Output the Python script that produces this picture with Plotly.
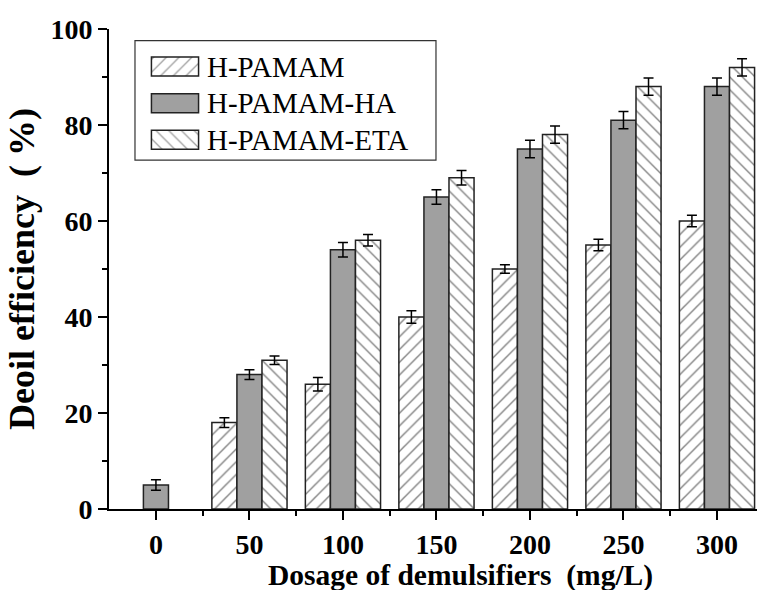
import plotly.graph_objects as go

# Demulsifier dosage (mg/L) and deoiling efficiency (%) for each polymer
dosage = [0, 50, 100, 150, 200, 250, 300]

h_pamam = [None, 18, 26, 40, 50, 55, 60]
h_pamam_err = [None, 1.0, 1.4, 1.3, 0.9, 1.2, 1.2]

h_pamam_ha = [5, 28, 54, 65, 75, 81, 88]
h_pamam_ha_err = [1.1, 1.0, 1.5, 1.5, 1.8, 1.8, 1.8]

h_pamam_eta = [None, 31, 56, 69, 78, 88, 92]
h_pamam_eta_err = [None, 0.9, 1.2, 1.5, 1.8, 1.8, 1.8]

series_names = ["H-PAMAM", "H-PAMAM-HA", "H-PAMAM-ETA"]
tick_vals = [0, 50, 100, 150, 200, 250, 300]
x_title = "Dosage of demulsifiers  (mg/L)"
y_title = "Deoil efficiency  ( %)"

FONT = "Liberation Serif"
EDGE = "#222222"
GRAY = "#a0a0a0"

fills = ["white", GRAY, "white"]
hatches = ["/", "", "\\"]


def err(vals):
    return dict(type="data", array=vals, visible=True, color="black",
                thickness=1.5, width=5)


def marker(i):
    m = dict(color=fills[i], line=dict(color=EDGE, width=1.5))
    if hatches[i]:
        m["pattern"] = dict(shape=hatches[i], fgcolor="black", bgcolor="white",
                            size=9, solidity=0.15)
    return m


fig = go.Figure()
for i, (vals, errs) in enumerate([(h_pamam, h_pamam_err),
                                  (h_pamam_ha, h_pamam_ha_err),
                                  (h_pamam_eta, h_pamam_eta_err)]):
    fig.add_trace(go.Bar(x=dosage, y=vals, name=series_names[i],
                         error_y=err(errs), marker=marker(i), showlegend=False))

# Legend keys: wide hatched swatches drawn as horizontal bars on an inset axis
fig.add_trace(go.Bar(
    y=series_names, x=[1, 1, 1], orientation="h", width=0.52,
    xaxis="x2", yaxis="y2", showlegend=False, hoverinfo="skip",
    marker=dict(color=fills, line=dict(color=EDGE, width=1.5),
                pattern=dict(shape=hatches, fgcolor="black", bgcolor="white",
                             size=9, solidity=0.15)),
))
for name in series_names:
    fig.add_annotation(x=1, y=name, xref="x2", yref="y2", text=name,
                       showarrow=False, xanchor="left", xshift=6,
                       font=dict(family=FONT, size=29, color="black"))

fig.add_shape(type="rect", xref="paper", yref="paper",
              x0=0.0401, x1=0.5046, y0=0.727, y1=0.9756,
              line=dict(color="#333333", width=1.2), fillcolor="rgba(0,0,0,0)",
              layer="below")

# x-axis title, set slightly right of the axis centre
fig.add_annotation(text=f"<b>{x_title}</b>", xref="paper", yref="paper",
                   x=0.5417, y=-0.1375, xanchor="center", yanchor="middle",
                   showarrow=False, font=dict(family=FONT, size=29.5, color="black"))

fig.update_layout(
    width=757, height=590,
    margin=dict(l=109, r=0, t=29, b=81),
    paper_bgcolor="white", plot_bgcolor="white",
    barmode="group", bargap=0.196, bargroupgap=0,
    font=dict(family=FONT, color="black"),
    showlegend=False,
    xaxis=dict(
        range=[-25.1, 321.4], tickmode="array", tickvals=tick_vals,
        ticktext=[str(v) for v in tick_vals],
        showline=True, linecolor="black", linewidth=2,
        ticks="outside", ticklen=9, tickwidth=2, tickcolor="black",
        minor=dict(tickvals=[25, 75, 125, 175, 225, 275], ticks="outside",
                   ticklen=5, tickwidth=2, tickcolor="black"),
        showgrid=False, zeroline=False,
        tickfont=dict(family=FONT, size=28, color="black", weight="bold"),
    ),
    yaxis=dict(
        range=[0, 100], tickmode="array", tickvals=[0, 20, 40, 60, 80, 100],
        showline=True, linecolor="black", linewidth=2,
        ticks="outside", ticklen=9, tickwidth=2, tickcolor="black",
        minor=dict(tickvals=[10, 30, 50, 70, 90], ticks="outside",
                   ticklen=5, tickwidth=2, tickcolor="black"),
        showgrid=False, zeroline=False,
        tickfont=dict(family=FONT, size=28, color="black", weight="bold"),
        title=dict(text=f"<b>{y_title}</b>",
                   font=dict(family=FONT, size=36, color="black"), standoff=5),
    ),
    xaxis2=dict(domain=[0.0633, 0.1404], range=[-0.03, 1.03], anchor="y2",
                visible=False, fixedrange=True),
    yaxis2=dict(domain=[0.731, 0.960], anchor="x2", type="category",
                categoryorder="array", categoryarray=series_names,
                autorange="reversed", visible=False, fixedrange=True),
)

fig.write_html("out.html")
